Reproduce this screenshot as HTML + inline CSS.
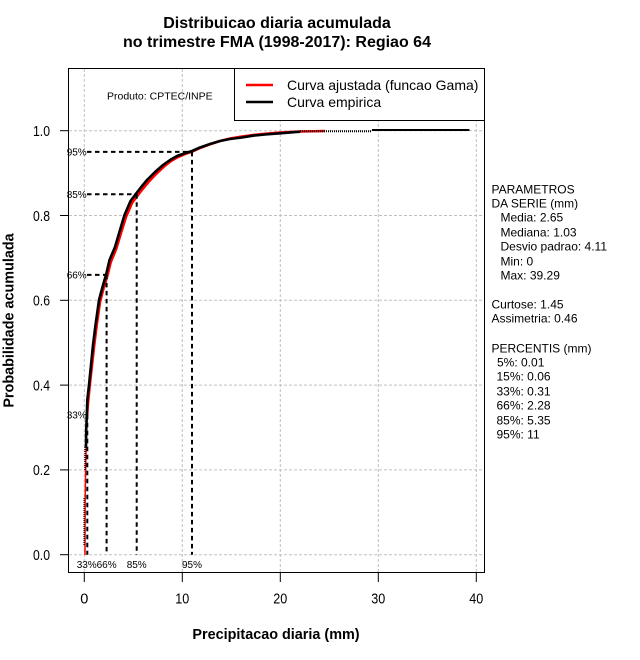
<!DOCTYPE html>
<html>
<head>
<meta charset="utf-8">
<style>
html,body{margin:0;padding:0;background:#fff;}
svg{display:block;}
text{font-family:"Liberation Sans",Arial,sans-serif;}
</style>
</head>
<body>
<svg width="640" height="660" viewBox="0 0 640 660" xmlns="http://www.w3.org/2000/svg">
<rect x="0" y="0" width="640" height="660" fill="#fff"/>

<!-- Title -->
<text x="277" y="28" font-size="16" font-weight="bold" text-anchor="middle">Distribuicao diaria acumulada</text>
<text x="277" y="47" font-size="16" font-weight="bold" text-anchor="middle">no trimestre FMA (1998-2017): Regiao 64</text>

<!-- Grid -->
<g stroke="#c0c0c0" stroke-width="1" stroke-dasharray="3 2" fill="none">
  <line x1="84.3" y1="69" x2="84.3" y2="572"/>
  <line x1="182.3" y1="69" x2="182.3" y2="572"/>
  <line x1="280.3" y1="69" x2="280.3" y2="572"/>
  <line x1="378.3" y1="69" x2="378.3" y2="572"/>
  <line x1="476.3" y1="69" x2="476.3" y2="572"/>
  <line x1="69" y1="554.7" x2="484" y2="554.7"/>
  <line x1="69" y1="469.9" x2="484" y2="469.9"/>
  <line x1="69" y1="385.1" x2="484" y2="385.1"/>
  <line x1="69" y1="300.3" x2="484" y2="300.3"/>
  <line x1="69" y1="215.5" x2="484" y2="215.5"/>
  <line x1="69" y1="130.7" x2="484" y2="130.7"/>
</g>

<!-- Red fitted curve -->
<polyline fill="none" stroke="#ff0000" stroke-width="1.5" points="85,555 85.2,500 85.6,470 86.3,440 86.8,420"/>
<polyline fill="none" stroke="#ff0000" stroke-width="2.6" stroke-linejoin="round"
 points="86.8,420 87.8,405 89.6,387 91.8,367 94,347 96.6,326 100,302 103.6,288 107.6,275 110.8,262 116.2,249 121.3,232 126,217 132,203 138,195 143.5,188 148.5,182 156,174 164,166.5 171,161 178,157 185,154 192.5,151.5 200,148 210,144.3 220,141 230,138.5 242,136.5 253,135 265,133.8 280,132.6 300,131.5 325,131"/>

<!-- Black empirical curve -->
<line x1="84.2" y1="545" x2="84.2" y2="498" stroke="#000" stroke-width="1.5" stroke-dasharray="1 1"/>
<line x1="85" y1="470" x2="85" y2="447" stroke="#000" stroke-width="1.5" stroke-dasharray="1 1"/>
<polyline fill="none" stroke="#000" stroke-width="2.6" stroke-linejoin="round"
 points="86,447 86.2,430 86.8,415 87.3,400 89,385 91,365 93,345 95.5,325 99,300 102.5,287 106.5,273 109.5,260 115,247 120,230 124.5,215 130.5,201 136.5,193 142,186 147,180 155,172 163,165 170,160 177,156 184,153.5 192,151 200,147.5 210,144 220,141 230,139 242,137.5 253,135.7 265,134.5 280,133.3 300,131.7"/>
<line x1="300" y1="131.2" x2="372" y2="131.2" stroke="#000" stroke-width="2" stroke-dasharray="1 1"/>
<line x1="372" y1="130" x2="469.5" y2="130" stroke="#000" stroke-width="2"/>

<!-- Percentile dashed lines -->
<g stroke="#000" stroke-width="2" stroke-dasharray="4.5 3.5" fill="none">
  <line x1="87" y1="151.9" x2="192" y2="151.9"/>
  <line x1="192" y1="151.9" x2="192" y2="554.7"/>
  <line x1="87" y1="194.3" x2="136.7" y2="194.3"/>
  <line x1="136.7" y1="194.3" x2="136.7" y2="554.7"/>
  <line x1="87" y1="274.9" x2="106.6" y2="274.9"/>
  <line x1="106.6" y1="274.9" x2="106.6" y2="554.7"/>
  <line x1="87.3" y1="414.8" x2="87.3" y2="554.7"/>
</g>

<!-- Percentile labels -->
<g font-size="10" text-anchor="middle" fill="#000">
  <text x="76.7" y="155.5">95%</text>
  <text x="76.7" y="197.9">85%</text>
  <text x="76.7" y="278.5">66%</text>
  <text x="76.7" y="418.4">33%</text>
  <text x="86.7" y="568">33%</text>
  <text x="106.6" y="568">66%</text>
  <text x="136.7" y="568">85%</text>
  <text x="192" y="568">95%</text>
</g>

<!-- Produto -->
<text x="107" y="99.5" font-size="10.5">Produto: CPTEC/INPE</text>

<!-- Legend -->
<rect x="234.5" y="68.5" width="250" height="52" fill="#fff" stroke="#000" stroke-width="1"/>
<line x1="246" y1="85" x2="273" y2="85" stroke="#ff0000" stroke-width="2.5"/>
<line x1="246" y1="102" x2="273" y2="102" stroke="#000" stroke-width="2.5"/>
<text x="287" y="90" font-size="14">Curva ajustada (funcao Gama)</text>
<text x="287" y="107" font-size="14">Curva empirica</text>

<!-- Plot box -->
<rect x="68.5" y="68.5" width="416" height="504" fill="none" stroke="#000" stroke-width="1"/>

<!-- Y axis ticks and labels -->
<g stroke="#000" stroke-width="1">
  <line x1="60" y1="554.7" x2="69" y2="554.7"/>
  <line x1="60" y1="469.9" x2="69" y2="469.9"/>
  <line x1="60" y1="385.1" x2="69" y2="385.1"/>
  <line x1="60" y1="300.3" x2="69" y2="300.3"/>
  <line x1="60" y1="215.5" x2="69" y2="215.5"/>
  <line x1="60" y1="130.7" x2="69" y2="130.7"/>
</g>
<g font-size="14.5" text-anchor="end" fill="#000">
  <text x="50" y="560" textLength="17" lengthAdjust="spacingAndGlyphs">0.0</text>
  <text x="50" y="475.2" textLength="17" lengthAdjust="spacingAndGlyphs">0.2</text>
  <text x="50" y="390.4" textLength="17" lengthAdjust="spacingAndGlyphs">0.4</text>
  <text x="50" y="305.6" textLength="17" lengthAdjust="spacingAndGlyphs">0.6</text>
  <text x="50" y="220.8" textLength="17" lengthAdjust="spacingAndGlyphs">0.8</text>
  <text x="50" y="136" textLength="17" lengthAdjust="spacingAndGlyphs">1.0</text>
</g>

<!-- X axis ticks and labels -->
<g stroke="#000" stroke-width="1">
  <line x1="84.3" y1="573" x2="84.3" y2="582"/>
  <line x1="182.3" y1="573" x2="182.3" y2="582"/>
  <line x1="280.3" y1="573" x2="280.3" y2="582"/>
  <line x1="378.3" y1="573" x2="378.3" y2="582"/>
  <line x1="476.3" y1="573" x2="476.3" y2="582"/>
</g>
<g font-size="14.5" text-anchor="middle" fill="#000">
  <text x="84.3" y="603.5">0</text>
  <text x="182.3" y="603.5" textLength="14" lengthAdjust="spacingAndGlyphs">10</text>
  <text x="280.3" y="603.5" textLength="14" lengthAdjust="spacingAndGlyphs">20</text>
  <text x="378.3" y="603.5" textLength="14" lengthAdjust="spacingAndGlyphs">30</text>
  <text x="476.3" y="603.5" textLength="14" lengthAdjust="spacingAndGlyphs">40</text>
</g>

<!-- Axis titles -->
<text x="276" y="639" font-size="14.4" font-weight="bold" text-anchor="middle">Precipitacao diaria (mm)</text>
<text transform="translate(13.5,320.5) rotate(-90)" font-size="14.4" font-weight="bold" text-anchor="middle">Probabilidade acumulada</text>

<!-- Right side stats -->
<g font-size="12" fill="#000">
  <text x="491.5" y="193.5">PARAMETROS</text>
  <text x="491.5" y="207.5">DA SERIE (mm)</text>
  <text x="500.5" y="221.5">Media: 2.65</text>
  <text x="500.5" y="236.5">Mediana: 1.03</text>
  <text x="500.5" y="250.5">Desvio padrao: 4.11</text>
  <text x="500.5" y="265.5">Min: 0</text>
  <text x="500.5" y="279.5">Max: 39.29</text>
  <text x="491.5" y="308.5">Curtose: 1.45</text>
  <text x="491.5" y="322.5">Assimetria: 0.46</text>
  <text x="491.5" y="352.5">PERCENTIS (mm)</text>
  <text x="497" y="366.5">5%: 0.01</text>
  <text x="496.5" y="380.5">15%: 0.06</text>
  <text x="496.5" y="395.5">33%: 0.31</text>
  <text x="496.5" y="409.5">66%: 2.28</text>
  <text x="496.5" y="424.5">85%: 5.35</text>
  <text x="496.5" y="438.5">95%: 11</text>
</g>
</svg>
</body>
</html>
